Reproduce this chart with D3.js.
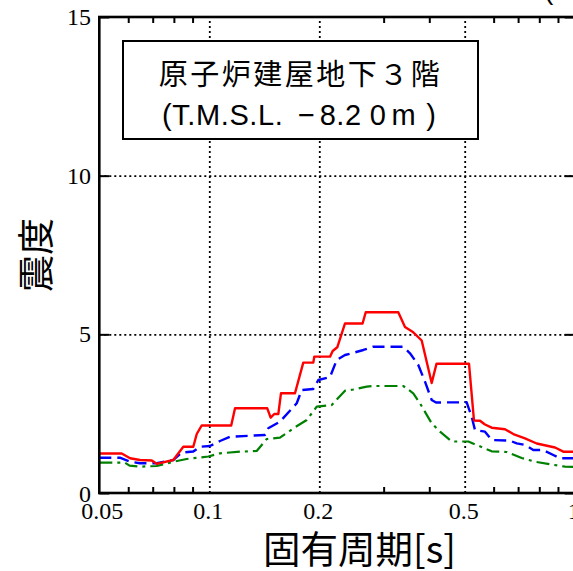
<!DOCTYPE html>
<html><head><meta charset="utf-8">
<script src="https://cdn.jsdelivr.net/npm/d3@7"></script>
<style>
html,body{margin:0;padding:0;background:#fff;overflow:hidden;}
svg{display:block;}
</style></head>
<body>
<svg id="chart" width="573" height="571"></svg>
<script>
// ---- data (period [s], seismic intensity) ----
const redT   = [0.05,0.0576,0.0607,0.0646,0.0696,0.0718,0.0797,0.0849,0.0904,0.0924,0.0953,0.1148,0.1176,0.1441,0.1472,0.1506,0.1545,0.1571,0.1716,0.1808,0.1926,0.1938,0.2140,0.2176,0.2240,0.2352,0.2627,0.2680,0.3290,0.3432,0.3616,0.3813,0.4061,0.4186,0.5137,0.5301,0.5506,0.5682,0.5928,0.6445,0.6792,0.7311,0.7871,0.8833,0.9307,1.0];
const redV   = [1.245,1.245,1.094,1.040,1.024,0.920,1.040,1.459,1.459,1.859,2.127,2.127,2.669,2.669,2.373,2.490,2.490,3.142,3.142,4.107,4.107,4.296,4.296,4.475,4.592,5.342,5.342,5.695,5.695,5.232,5.065,4.806,3.467,4.075,4.075,2.285,2.279,2.159,2.058,2.008,1.859,1.724,1.560,1.434,1.302,1.302];
const blueT  = [0.05,0.0569,0.0607,0.0646,0.0718,0.0797,0.0840,0.0904,0.0943,0.1004,0.1070,0.1140,0.1420,0.1450,0.1561,0.1735,0.1790,0.1926,0.1988,0.2140,0.2232,0.2352,0.2453,0.2640,0.2812,0.3395,0.3542,0.3732,0.3893,0.4061,0.4173,0.5063,0.5225,0.5334,0.5682,0.5928,0.6651,0.6939,0.7311,0.7704,0.8189,0.8737,0.9116,1.0];
const blueV  = [1.112,1.112,0.986,0.936,0.936,1.040,1.270,1.308,1.459,1.481,1.639,1.774,1.828,2.039,2.247,2.827,3.246,3.278,3.561,3.656,4.192,4.349,4.403,4.507,4.611,4.611,4.403,4.034,3.508,2.931,2.852,2.859,2.405,1.985,1.932,1.670,1.648,1.566,1.513,1.355,1.355,1.198,1.094,1.094];
const greenT = [0.05,0.0588,0.0605,0.0645,0.0718,0.0797,0.0867,0.0994,0.1070,0.1213,0.1348,0.1436,0.1561,0.1716,0.1848,0.1968,0.2163,0.2352,0.2478,0.2697,0.2812,0.3395,0.3616,0.3772,0.4061,0.4280,0.4607,0.5115,0.5392,0.5928,0.6515,0.7160,0.7786,0.8558,0.9408,1.0];
const greenV = [0.955,0.955,0.860,0.829,0.851,0.986,1.072,1.150,1.251,1.302,1.324,1.702,1.743,2.071,2.301,2.720,2.773,3.224,3.262,3.350,3.372,3.372,3.142,2.827,2.197,1.932,1.623,1.623,1.513,1.314,1.292,1.103,0.986,0.905,0.829,0.819];

const xMajor = [0.05,0.1,0.2,0.5,1];
const xMajorLabels = ["0.05","0.1","0.2","0.5","1"];
const xMinor = [0.06,0.07,0.08,0.09,0.3,0.4,0.6,0.7,0.8,0.9];
const xGrid = [0.1,0.2,0.5];
const yTicks = [0,5,10,15];
const yTickLabels = ["0","5","10","15"];
const yGrid = [5,10];

const xTitle = "固有周期[s]";
const yTitle = "震度";
const boxLine1 = "原子炉建屋地下３階";
const boxLine2Parts = ["(T.M.S.L. ","−","8",".","2","0","m",")"];
const boxLine2Gaps  = [0,6,4,0,0,8,5,10];

// ---- scales ----
const L = 99.3, R = 574.7, T = 17, B = 493;
const x = d3.scaleLog().domain([0.05,1]).range([L,R]);
const y = d3.scaleLinear().domain([0,15]).range([B,T]);

const svg = d3.select("#chart");
const serif = "'Liberation Serif','Times New Roman',serif";
const cjk = "'Noto Sans CJK JP','Noto Sans',sans-serif";
const sans = "'Liberation Sans',Arial,sans-serif";

// grid
const gx = svg.append("g").attr("transform",`translate(0,${B})`)
  .call(d3.axisBottom(x).tickValues(xGrid).tickSize(-(B-T)).tickFormat(""));
gx.select(".domain").remove();
gx.selectAll("line").attr("stroke","#000").attr("stroke-width",1.8).attr("stroke-dasharray","2,3");
const gy = svg.append("g").attr("transform",`translate(${L},0)`)
  .call(d3.axisLeft(y).tickValues(yGrid).tickSize(-(R-L)).tickFormat(""));
gy.select(".domain").remove();
gy.selectAll("line").attr("stroke","#000").attr("stroke-width",1.8).attr("stroke-dasharray","2,3");

// series
const line = d3.line().x(d=>x(d[0])).y(d=>y(d[1]));
const series = [
  {t:greenT, v:greenV, color:"#008000", dash:"13,5,3,5", w:2.2},
  {t:blueT,  v:blueV,  color:"#0000ff", dash:"12,6", w:2.4},
  {t:redT,   v:redV,   color:"#ff0000", dash:null, w:2.4}
];
series.forEach(s=>{
  const pts = s.t.map((t,i)=>[t,s.v[i]]);
  svg.append("path").datum(pts).attr("d",line)
    .attr("fill","none").attr("stroke",s.color).attr("stroke-width",s.w)
    .attr("stroke-linejoin","round")
    .attr("stroke-dasharray",s.dash);
});

// ticks
function styleTicks(g){ g.select(".domain").remove(); g.selectAll("line").attr("stroke","#000").attr("stroke-width",2); }
svg.append("g").attr("transform",`translate(0,${B})`)
  .call(d3.axisBottom(x).tickValues(xMinor).tickSize(-6).tickFormat("")).call(styleTicks);
svg.append("g").attr("transform",`translate(0,${T})`)
  .call(d3.axisTop(x).tickValues(xMinor).tickSize(-6).tickFormat("")).call(styleTicks);
svg.append("g").attr("transform",`translate(${L},0)`)
  .call(d3.axisLeft(y).tickValues(yTicks).tickSize(-10).tickFormat("")).call(styleTicks);
svg.append("g").attr("transform",`translate(${R},0)`)
  .call(d3.axisRight(y).tickValues(yTicks).tickSize(-10).tickFormat("")).call(styleTicks);

// frame
svg.append("rect").attr("x",L).attr("y",T).attr("width",R-L).attr("height",B-T)
  .attr("fill","none").attr("stroke","#000").attr("stroke-width",2.6);

// tick labels
svg.append("g").selectAll("text").data(xMajor).join("text")
  .attr("x",(d,i)=>x(d)+(i===0?3:-1)).attr("y",519)
  .attr("text-anchor","middle").attr("font-family",serif).attr("font-size",24)
  .text((d,i)=>xMajorLabels[i]);
svg.append("g").selectAll("text").data(yTicks).join("text")
  .attr("x",91).attr("y",(d,i)=>y(d)+(i===0?9:8))
  .attr("text-anchor","end").attr("font-family",serif).attr("font-size",24)
  .text((d,i)=>yTickLabels[i]);

// axis titles
svg.append("text").attr("x",359.5).attr("y",563).attr("text-anchor","middle")
  .attr("font-family",cjk).attr("font-size",37.5).attr("fill","#000").text(xTitle);
svg.append("text").attr("transform","translate(33.5,255) rotate(-90)")
  .attr("text-anchor","middle").attr("dominant-baseline","central")
  .attr("font-family",cjk).attr("font-size",37).attr("fill","#000").text(yTitle);

// annotation box
svg.append("rect").attr("x",123).attr("y",41).attr("width",355).attr("height",98)
  .attr("fill","#fff").attr("stroke","#000").attr("stroke-width",2);
svg.append("text").attr("x",300.5).attr("y",85).attr("text-anchor","middle")
  .attr("font-family",cjk).attr("font-size",29).attr("letter-spacing","2.5px").text(boxLine1);
const t2 = svg.append("text").attr("x",162).attr("y",125)
  .attr("font-family",sans).attr("font-size",29).attr("letter-spacing","0.6px")
  .attr("xml:space","preserve");
t2.selectAll("tspan").data(boxLine2Parts).join("tspan")
  .attr("dx",(d,i)=>boxLine2Gaps[i]).text(d=>d);

// clipped label fragment at top right
svg.append("text").attr("x",544).attr("y",-1).attr("font-family",sans).attr("font-size",28).text("(");
</script>
</body></html>
